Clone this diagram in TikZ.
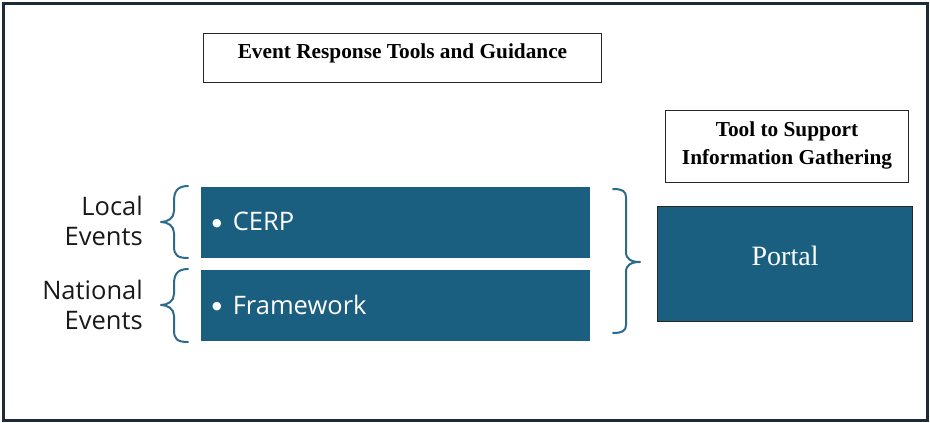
\documentclass[tikz,border=0pt]{standalone}
\usepackage{fontspec}
\setmainfont{Liberation Serif}
\newfontfamily\labelfont{Open Sans}
\newfontfamily\bulletfont{DejaVu Sans}
\usetikzlibrary{calc}
\definecolor{frameink}{HTML}{1B2B38}
\definecolor{boxblue}{HTML}{1A5E80}
\definecolor{braceblue}{HTML}{2C6B8B}
\newcommand{\itembullet}{{\bulletfont\fontsize{11}{30}\selectfont\raisebox{4.5pt}{●}}\hspace{11pt}}
\begin{document}
\begin{tikzpicture}[x=1pt,y=-1pt,
  headbox/.style={draw=black!85, line width=1pt, fill=white, anchor=north west, inner sep=0pt},
  headtext/.style={font=\fontsize{21.3}{28}\selectfont\bfseries, align=center, inner sep=0pt},
  bluebox/.style={fill=boxblue, anchor=north west, inner sep=0pt},
  itemtext/.style={font=\labelfont\fontsize{25.5}{30}\selectfont, text=white, anchor=west, inner sep=0pt},
  sidetext/.style={font=\labelfont\fontsize{25.5}{30}\selectfont, text=black!90, align=right, anchor=east, inner sep=0pt},
  bracepath/.style={draw=braceblue, line width=2pt, line cap=round, line join=round}]
\useasboundingbox (0,0) rectangle (930,423);
% outer frame
\draw[frameink, line width=3pt] (3,3) rectangle (927,420);

% heading boxes
\node[headbox, minimum width=398pt, minimum height=49pt] (head) at (203,33) {};
\node[headtext] (headlbl) at ($(head.north)+(0,20)$) {Event Response Tools and Guidance};
\node[headbox, minimum width=243pt, minimum height=72pt] (toolhead) at (665,110) {};
\node[headtext] (toollbl) at ($(toolhead.center)+(0,-1)$) {Tool to Support\\Information Gathering};

% tool boxes
\node[bluebox, minimum width=389pt, minimum height=71pt] (cerp) at (201,187) {};
\node[itemtext] (cerplbl) at ($(cerp.west)+(11,-1)$) {\itembullet CERP};
\node[bluebox, minimum width=389pt, minimum height=71pt] (frame) at (201,270) {};
\node[itemtext] (framelbl) at ($(frame.west)+(11,-1)$) {\itembullet Framework};

\node[bluebox, draw=black!85, line width=1.2pt, minimum width=255pt, minimum height=115pt] (portal) at (657,206) {};
\node[font=\fontsize{28}{30}\selectfont, text=white, inner sep=0pt] (portallbl) at ($(portal.center)+(0,-8)$) {Portal};

% event labels
\node[sidetext] (local) at (143,221) {Local\\Events};
\node[sidetext] (national) at (143,305) {National\\Events};

% left braces
\draw[bracepath] (188,186) .. controls (177,186) and (174,192) .. (174,201) -- (174,211)
  .. controls (174,218) and (168,222) .. (161,222)
  .. controls (168,222) and (174,226) .. (174,233) -- (174,246)
  .. controls (174,255) and (177,258) .. (188,258);
\draw[bracepath] (188,269) .. controls (177,269) and (174,275) .. (174,284) -- (174,294)
  .. controls (174,301) and (168,305) .. (161,305)
  .. controls (168,305) and (174,309) .. (174,316) -- (174,330)
  .. controls (174,339) and (177,342) .. (188,342);
% right brace
\draw[bracepath] (613,189) .. controls (622,189) and (626,191) .. (626,197) -- (626,252)
  .. controls (626,259) and (631,262) .. (640,262)
  .. controls (631,262) and (626,265) .. (626,272) -- (626,325)
  .. controls (626,331) and (622,333) .. (613,333);
\end{tikzpicture}
\end{document}
